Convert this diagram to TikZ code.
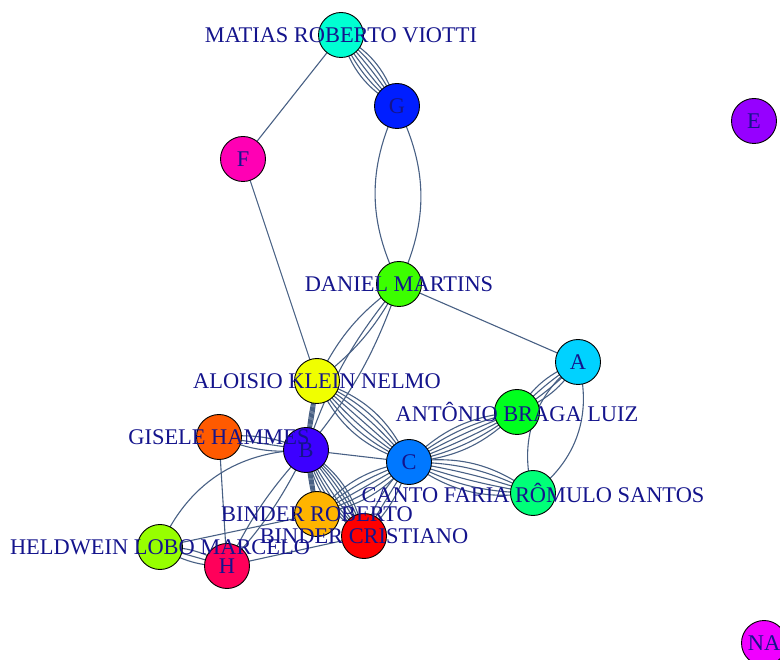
\documentclass[tikz,border=0pt]{standalone}
\usepackage{fontspec}
\setmainfont{Liberation Serif}
\usetikzlibrary{backgrounds}
\definecolor{edgec}{RGB}{72,96,132}
\definecolor{labc}{RGB}{20,20,140}
\definecolor{cmat}{HTML}{00FFD2}
\definecolor{cG}{HTML}{001EFF}
\definecolor{cF}{HTML}{FF00B4}
\definecolor{cE}{HTML}{9600FF}
\definecolor{cdan}{HTML}{3CFF00}
\definecolor{cA}{HTML}{00D2FF}
\definecolor{calo}{HTML}{F0FF00}
\definecolor{cant}{HTML}{00FF1E}
\definecolor{cgis}{HTML}{FF5A00}
\definecolor{cB}{HTML}{3C00FF}
\definecolor{cC}{HTML}{0078FF}
\definecolor{ccan}{HTML}{00FF78}
\definecolor{cbrob}{HTML}{FFB400}
\definecolor{cbcri}{HTML}{FF0000}
\definecolor{chel}{HTML}{97FF00}
\definecolor{cH}{HTML}{FF005A}
\definecolor{cNA}{HTML}{F000FF}
\newcommand\edgebundle[3]{\foreach \bb in {#3} {\draw[edge] (#1.center) to[bend left=\bb] (#2.center);}}
\begin{document}
\begin{tikzpicture}[x=1pt,y=1pt,
  vtx/.style={circle,draw=black,line width=0.9pt,minimum size=45pt,inner sep=0pt},
  lab/.style={text=labc,font=\fontsize{22.4}{24}\selectfont,inner sep=0pt},
  edge/.style={draw=edgec,line width=1.1pt}]
\clip (0,0) rectangle (780,-660);
\useasboundingbox (0,0) rectangle (780,-660);
% vertices
\node[vtx,fill=cmat] (mat) at (341,-35) {};
\node[vtx,fill=cG] (G) at (397,-106) {};
\node[vtx,fill=cF] (F) at (243,-159) {};
\node[vtx,fill=cE] (E) at (754,-121) {};
\node[vtx,fill=cdan] (dan) at (399,-284) {};
\node[vtx,fill=cA] (A) at (578,-362) {};
\node[vtx,fill=calo] (alo) at (317,-381) {};
\node[vtx,fill=cant] (ant) at (517,-412) {};
\node[vtx,fill=cgis] (gis) at (219,-437) {};
\node[vtx,fill=cB] (B) at (306,-450) {};
\node[vtx,fill=cC] (C) at (409,-462) {};
\node[vtx,fill=ccan] (can) at (533,-493) {};
\node[vtx,fill=cbrob] (brob) at (317,-514) {};
\node[vtx,fill=cbcri] (bcri) at (364,-536) {};
\node[vtx,fill=chel] (hel) at (160,-547) {};
\node[vtx,fill=cH] (H) at (227,-566) {};
\node[vtx,fill=cNA] (NA) at (764,-643) {};
% edges
\begin{pgfonlayer}{background}
\edgebundle{mat}{G}{-22,-13.2,-4.4,4.4,13.2,22}
\draw[edge] (mat.center) -- (F.center);
\edgebundle{G}{dan}{-26,26}
\draw[edge] (F.center) -- (alo.center);
\draw[edge] (dan.center) -- (A.center);
\edgebundle{dan}{alo}{-14,12}
\edgebundle{dan}{B}{-10,10}
\edgebundle{alo}{C}{-24,-16,-8,0,8,16,24}
\edgebundle{alo}{B}{-6,-3,0,3,6}
\edgebundle{gis}{B}{-14,0,14}
\draw[edge] (gis.center) -- (H.center);
\draw[edge] (B.center) -- (C.center);
\edgebundle{B}{brob}{-6,-3,0,3,6}
\edgebundle{B}{bcri}{-22,-16,-10,-4,4,10,16,22}
\edgebundle{C}{brob}{-20,-10,0,10,20}
\edgebundle{C}{bcri}{-14,0,14}
\edgebundle{C}{ant}{-20,-12,-4,4,12,20}
\edgebundle{C}{can}{-22,-13.2,-4.4,4.4,13.2,22}
\edgebundle{ant}{A}{-18,-6,6,18}
\edgebundle{A}{can}{-35,35}
\edgebundle{hel}{H}{-16,0,16}
\draw[edge] (hel.center) to[bend left=33] (B.center);
\edgebundle{H}{B}{-8,8}
\draw[edge] (hel.center) -- (brob.center);
\draw[edge] (H.center) -- (bcri.center);
\end{pgfonlayer}
% labels
\node[lab] (matL) at (mat) {MATIAS ROBERTO VIOTTI};
\node[lab] (GL) at (G) {G};
\node[lab] (FL) at (F) {F};
\node[lab] (EL) at (E) {E};
\node[lab] (danL) at (dan) {DANIEL MARTINS};
\node[lab] (AL) at (A) {A};
\node[lab] (aloL) at (alo) {ALOISIO KLEIN NELMO};
\node[lab] (antL) at (ant) {ANTÔNIO BRAGA LUIZ};
\node[lab] (gisL) at (gis) {GISELE HAMMES};
\node[lab] (BL) at (B) {B};
\node[lab] (CL) at (C) {C};
\node[lab] (canL) at (can) {CANTO FARIA RÔMULO SANTOS};
\node[lab] (brobL) at (brob) {BINDER ROBERTO};
\node[lab] (bcriL) at (bcri) {BINDER CRISTIANO};
\node[lab] (helL) at (hel) {HELDWEIN LOBO MARCELO};
\node[lab] (HL) at (H) {H};
\node[lab] (NAL) at (NA) {NA};
\end{tikzpicture}
\end{document}
